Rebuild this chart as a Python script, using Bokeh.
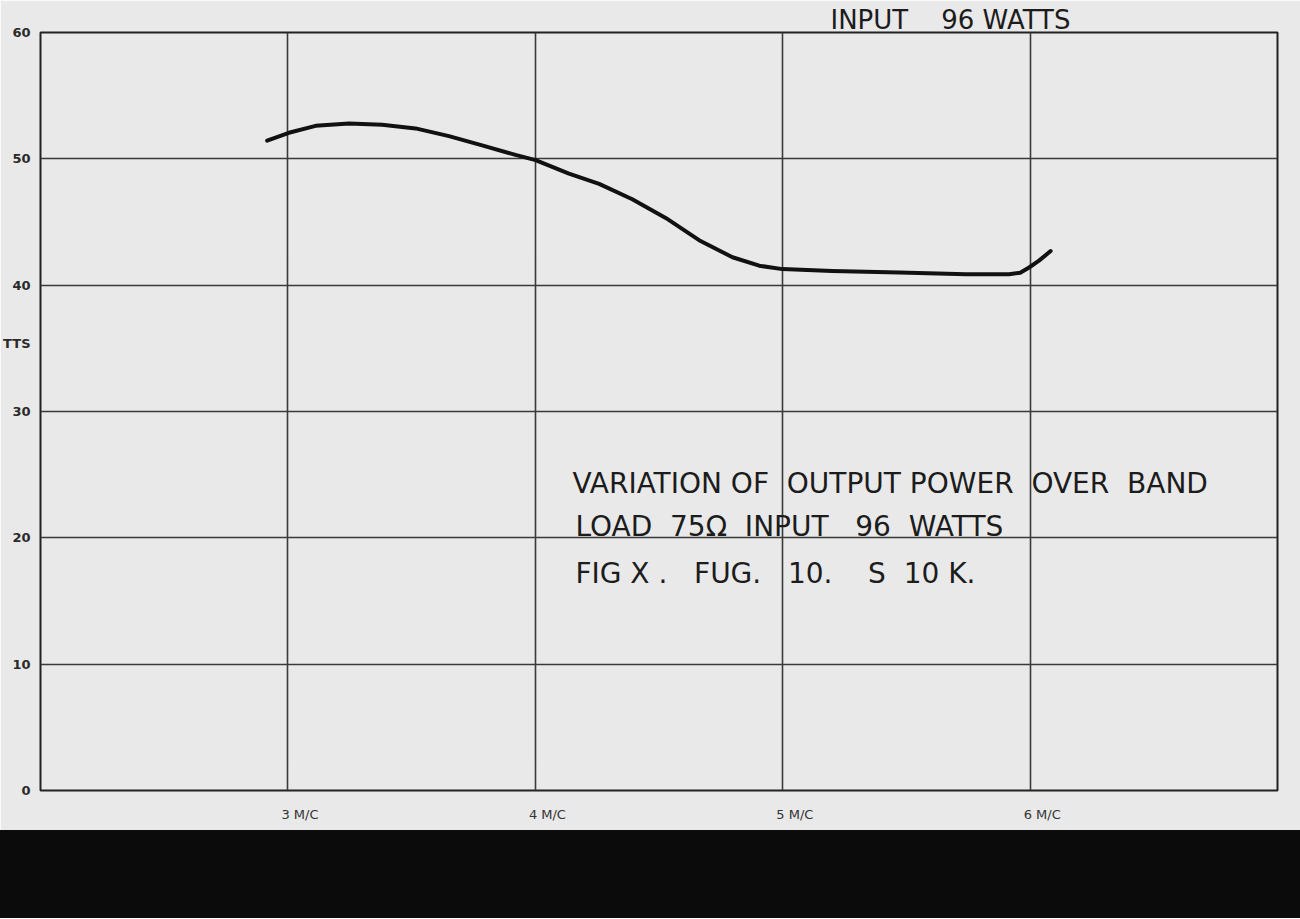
from bokeh.plotting import figure
from bokeh.models import FixedTicker, Label, Range1d, Div, Title
from bokeh.layouts import column
from bokeh.embed import file_html
from bokeh.resources import INLINE

# ---- data ----
freq_mc = [2.916, 3.004, 3.112, 3.247, 3.381, 3.516, 3.651, 3.785, 3.920, 4.001,
           4.136, 4.258, 4.392, 4.527, 4.662, 4.797, 4.905, 4.999, 5.200, 5.471,
           5.741, 5.915, 5.960, 5.996, 6.036, 6.083]
output_watts = [51.44, 52.06, 52.61, 52.79, 52.69, 52.41, 51.80, 51.07, 50.31, 49.90,
                48.83, 48.02, 46.80, 45.32, 43.56, 42.21, 41.54, 41.27, 41.13, 41.00,
                40.87, 40.87, 40.98, 41.40, 41.94, 42.70]

x_ticks = [3, 4, 5, 6]
x_tick_labels = ["3 M/C", "4 M/C", "5 M/C", "6 M/C"]
y_ticks = [0, 10, 20, 30, 40, 50, 60]
y_tick_labels = ["0", "10", "20", "30", "40", "50", "60"]

NB = "\u00a0"
note_lines = ["VARIATION OF" + NB + " OUTPUT POWER" + NB + " OVER" + NB + " BAND",
              "LOAD" + NB + " 75Ω" + NB + " INPUT" + NB * 2 + " 96" + NB + " WATTS",
              "FIG X ." + NB * 2 + " FUG." + NB * 2 + " 10." + NB * 3 + " S" + NB + " 10 K."]
top_text = "INPUT" + NB * 3 + " 96 WATTS"
y_axis_text = "TTS"

BG = "#e9e9e9"
INK = "#1c1c1c"
FONT = "DejaVu Sans"

W, H = 1300, 830
BL, BR, BT, BB = 40, 23, 32, 40
p = figure(width=W, height=H, x_range=Range1d(2, 7), y_range=Range1d(0, 60),
           output_backend="svg", toolbar_location=None,
           min_border_left=BL, min_border_right=BR, min_border_top=BT, min_border_bottom=BB)
p.background_fill_color = BG
p.border_fill_color = BG
p.outline_line_color = "#222222"
p.outline_line_width = 2

px_per_x = (W - BL - BR) / 5.0
px_per_y = (H - BT - BB) / 60.0

# top caption (partly cut off in the scan) as a title in the top border
p.add_layout(Title(text=top_text, align="left", offset=830 - BL, text_font=FONT,
                   text_font_size="26px", text_font_style="normal", text_color=INK,
                   standoff=-4), "above")

# x axis: tick texts sit a little to the right of each grid line
x_label_pos = [round(t + 12 / px_per_x, 3) for t in x_ticks]
p.xaxis.ticker = FixedTicker(ticks=x_label_pos)
p.xaxis.major_label_overrides = {k: v for k, v in zip(x_label_pos, x_tick_labels)}
p.xaxis.axis_line_color = None
p.xaxis.major_tick_line_color = None
p.xaxis.minor_tick_line_color = None
p.xaxis.major_label_standoff = 10
p.xaxis.major_label_text_font = FONT
p.xaxis.major_label_text_font_size = "13px"
p.xaxis.major_label_text_color = "#333333"
p.xgrid.ticker = FixedTicker(ticks=x_ticks)

# y axis: numbers plus the (cut) unit text "TTS" at the left edge
tts_pos = round((H - BB - 343) / px_per_y, 2)
p.yaxis.ticker = FixedTicker(ticks=y_ticks + [tts_pos])
overrides = {k: v for k, v in zip(y_ticks, y_tick_labels)}
overrides[tts_pos] = y_axis_text
p.yaxis.major_label_overrides = overrides
p.yaxis.axis_line_color = None
p.yaxis.minor_tick_line_color = None
p.yaxis.major_tick_line_color = None
p.yaxis.major_label_standoff = 4
p.yaxis.major_label_text_font = FONT
p.yaxis.major_label_text_font_size = "13px"
p.yaxis.major_label_text_font_style = "bold"
p.yaxis.major_label_text_color = "#2a2a2a"
p.ygrid.ticker = FixedTicker(ticks=y_ticks)

p.grid.grid_line_color = "#3a3a3a"
p.grid.grid_line_width = 1.6
p.grid.grid_line_alpha = 1.0

p.line(freq_mc, output_watts, line_color="#111111", line_width=4, line_cap="round", line_join="round")

baselines = [24.3, 20.9, 17.2]
lefts = [4.150, 4.162, 4.162]
for txt, yb, xl in zip(note_lines, baselines, lefts):
    p.add_layout(Label(x=xl, y=yb, text=txt, text_font=FONT, text_font_size="28px",
                       text_color=INK, text_align="left", text_baseline="alphabetic"))

band = Div(text="", width=W, height=88, margin=(0, 0, 0, 0),
           styles={"background-color": "#0b0b0b"})

layout = column(p, band, spacing=0)
open("out.html", "w").write(file_html(layout, INLINE))
